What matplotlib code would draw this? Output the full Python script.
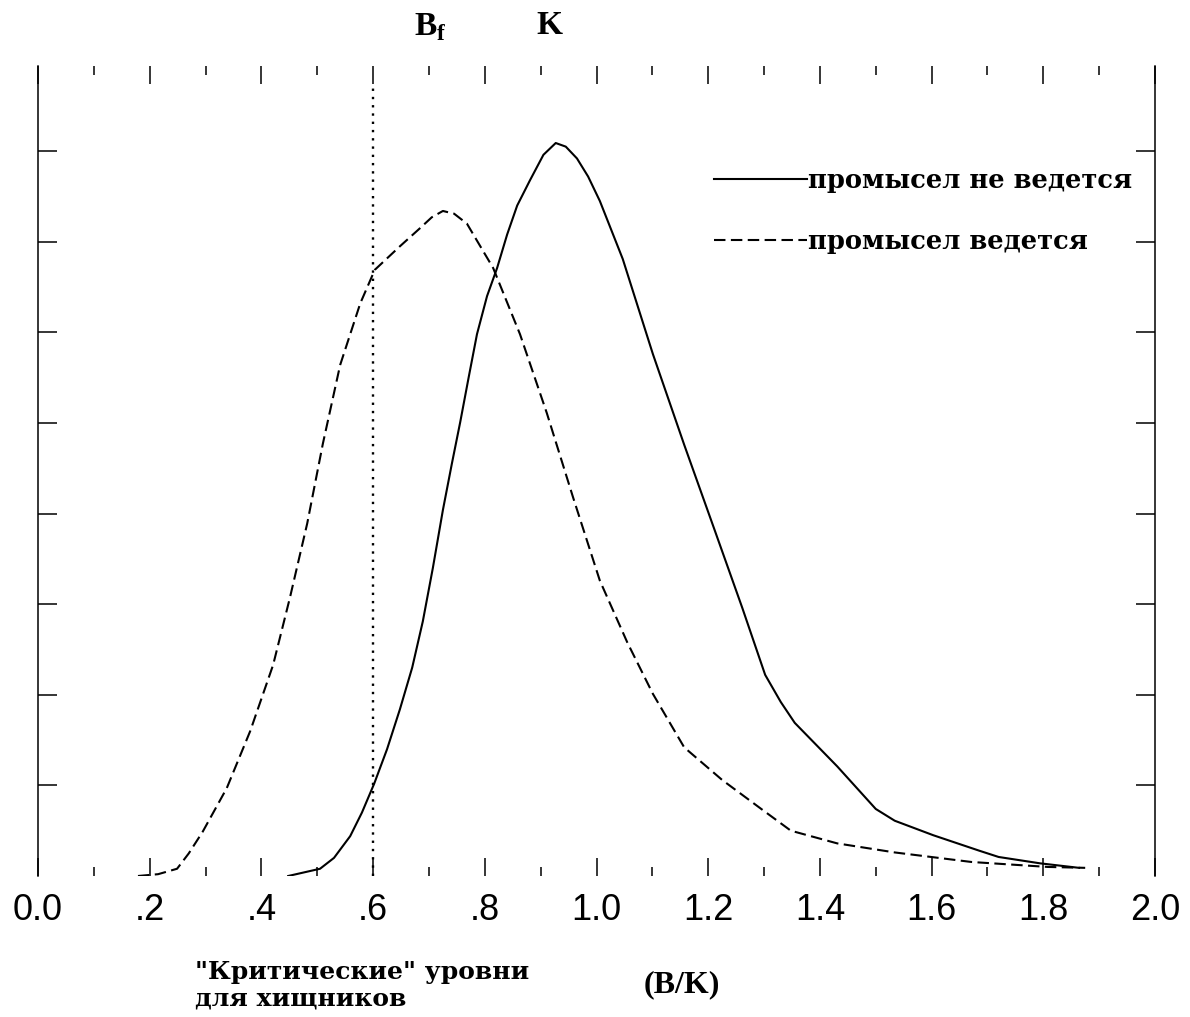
import numpy as np
import matplotlib
matplotlib.use('Agg')
import matplotlib.pyplot as plt

# values (x = B/K, y = relative frequency in tick units)
x_no_fishing = [0.448, 0.505, 0.530, 0.559, 0.580, 0.602, 0.625, 0.648, 0.670,
                0.689, 0.707, 0.725, 0.741, 0.756, 0.771, 0.786, 0.804, 0.822,
                0.840, 0.858, 0.881, 0.905, 0.927, 0.945, 0.965, 0.985, 1.006,
                1.047, 1.101, 1.157, 1.212, 1.261, 1.302, 1.330, 1.355, 1.431,
                1.500, 1.534, 1.603, 1.685, 1.720, 1.794, 1.864]
y_no_fishing = [0.00, 0.08, 0.20, 0.44, 0.70, 1.02, 1.40, 1.84, 2.30,
                2.81, 3.40, 4.04, 4.55, 5.01, 5.50, 5.98, 6.40, 6.71,
                7.08, 7.40, 7.68, 7.96, 8.09, 8.05, 7.92, 7.72, 7.45,
                6.81, 5.76, 4.76, 3.81, 2.96, 2.22, 1.92, 1.69, 1.21,
                0.74, 0.61, 0.45, 0.28, 0.21, 0.14, 0.09]

x_fishing = [0.179, 0.215, 0.249, 0.270, 0.295, 0.338, 0.380, 0.421, 0.451,
             0.482, 0.510, 0.541, 0.577, 0.603, 0.648, 0.684, 0.705, 0.725,
             0.745, 0.768, 0.815, 0.863, 0.911, 0.958, 1.006, 1.055, 1.101,
             1.157, 1.225, 1.295, 1.348, 1.431, 1.534, 1.671, 1.808, 1.875]
y_fishing = [0.00, 0.02, 0.08, 0.25, 0.49, 0.97, 1.60, 2.33, 3.07,
             3.89, 4.77, 5.64, 6.32, 6.69, 6.95, 7.15, 7.27, 7.34,
             7.31, 7.20, 6.71, 5.98, 5.11, 4.18, 3.26, 2.58, 2.01,
             1.42, 1.06, 0.74, 0.50, 0.36, 0.26, 0.155, 0.10, 0.09]

b_crit = 0.6
xticks = [0.0, 0.2, 0.4, 0.6, 0.8, 1.0, 1.2, 1.4, 1.6, 1.8, 2.0]
xticklabels = ['0.0', '.2', '.4', '.6', '.8', '1.0', '1.2', '1.4', '1.6', '1.8', '2.0']
yticks = [1, 2, 3, 4, 5, 6, 7, 8]
labels = ['промысел не ведется', 'промысел ведется']

W, H = 1190, 1017
fig = plt.figure(figsize=(W / 100, H / 100), dpi=100)
ax = fig.add_axes([38 / W, 1 - 876 / H, (1155 - 38) / W, (876 - 66) / H])

l1, = ax.plot(x_no_fishing, y_no_fishing, color='black', lw=1.5,
              solid_joinstyle='round')
l2, = ax.plot(x_fishing, y_fishing, color='black', lw=1.5, dashes=(5.5, 2.6))
ax.plot([b_crit, b_crit], [0, 8.7], color='black', lw=1.7, dashes=(1.0, 2.5))

ax.set_xlim(0, 2)
ax.set_ylim(0, 8.94)
ax.set_xticks(xticks)
ax.set_xticklabels(xticklabels, fontsize=26, family='Liberation Sans')
ax.set_xticks(np.arange(0.1, 2.0, 0.2), minor=True)
ax.set_yticks(yticks)
ax.set_yticklabels([])
ax.tick_params(axis='x', which='major', direction='in', top=True, bottom=True,
               length=13, width=1.1, pad=12)
ax.tick_params(axis='x', which='minor', direction='in', top=True, bottom=True,
               length=6.5, width=1.1)
ax.tick_params(axis='y', direction='in', left=True, right=True,
               length=13.5, width=1.1)
for s in ['top', 'bottom']:
    ax.spines[s].set_visible(False)
for s in ['left', 'right']:
    ax.spines[s].set_linewidth(1.1)

leg = ax.legend([l1, l2], labels, loc='upper left',
                bbox_to_anchor=(714 / W, 1 - 168 / H), bbox_transform=fig.transFigure,
                frameon=False, handlelength=3.6, handletextpad=0.05,
                labelspacing=1.4, borderpad=0, borderaxespad=0,
                prop={'family': 'DejaVu Serif', 'weight': 'bold', 'size': 18.5})

plt.rcParams['mathtext.fontset'] = 'custom'
plt.rcParams['mathtext.rm'] = 'Liberation Serif:bold'
fig.text(430 / W, 1 - 27 / H, r'B$_\mathrm{f}$', ha='center', va='center',
         family='Liberation Serif', weight='bold', fontsize=24)
fig.text(549 / W, 1 - 26 / H, 'K', ha='center', va='center',
         family='Liberation Serif', weight='bold', fontsize=24)
fig.text(195 / W, 1 - 985 / H, '"Критические" уровни\nдля хищников',
         ha='left', va='center', family='DejaVu Serif', weight='bold',
         fontsize=18, linespacing=1.15)
fig.text(682 / W, 1 - 985 / H, '(B/K)', ha='center', va='center',
         family='Liberation Serif', weight='bold', fontsize=23)

fig.savefig('out.png', dpi=100)
